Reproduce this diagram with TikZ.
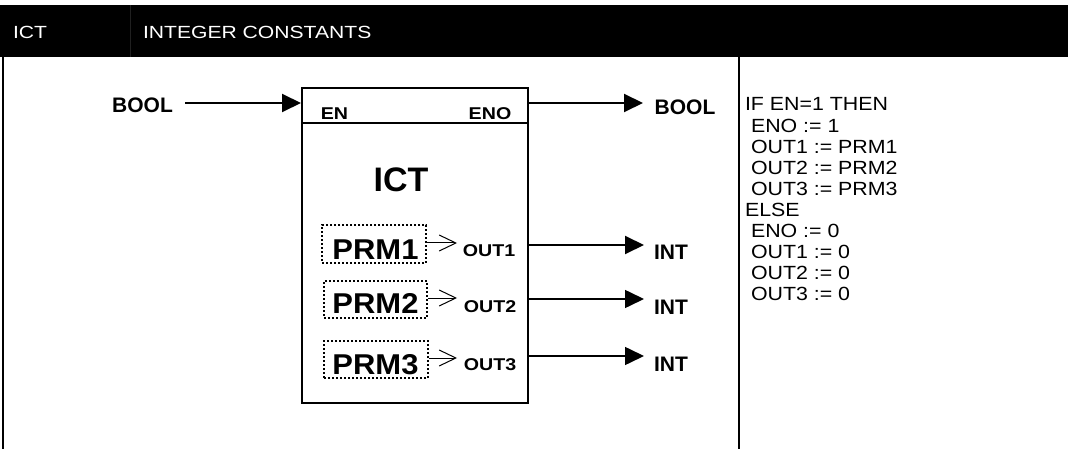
\documentclass[tikz,border=0pt]{standalone}
\usepackage{fontspec}
\setmainfont{Liberation Sans}
\newfontfamily\hdrfont[FakeStretch=1.2]{Liberation Sans}
\newfontfamily\codefont[FakeStretch=1.12]{Liberation Sans}
\newfontfamily\bfa{Liberation Sans Bold}
\newfontfamily\bfb[FakeStretch=1.15]{Liberation Sans Bold}
\newfontfamily\bfc[FakeStretch=1.08]{Liberation Sans Bold}
\usetikzlibrary{arrows.meta}
\begin{document}
\begin{tikzpicture}[x=0.75pt,y=-0.75pt,
  txt/.style={inner sep=0pt,outer sep=0pt},
  hdr/.style={txt,anchor=base west,text=white,font=\hdrfont\fontsize{13.2pt}{14pt}\selectfont},
  typ/.style={txt,anchor=base,font=\bfa\fontsize{15.75pt}{17pt}\selectfont},
  pin/.style={txt,anchor=base,font=\bfb\fontsize{12.8pt}{14pt}\selectfont},
  prm/.style={txt,anchor=base,font=\bfc\fontsize{21.5pt}{23pt}\selectfont},
  code/.style={txt,anchor=base west,font=\codefont\fontsize{14.3pt}{16pt}\selectfont},
  sig/.style={line width=1.5pt,-{Triangle[length=14.25pt,width=13.5pt]}},
  sigthin/.style={line width=1.2pt,-{Triangle[length=14.25pt,width=13.5pt]}},
  small/.style={line width=0.75pt,-{Straight Barb[length=12.5pt,width=12pt,line width=0.75pt]}},
  dotbox/.style={draw,line width=1.5pt,dash pattern=on 1.5pt off 1.5pt}]
\useasboundingbox (0,0) rectangle (1068,449);
% header
\fill[black] (0,5) rectangle (1068,57);
\draw[line width=0.75pt,color={rgb,255:red,32;green,32;blue,32}] (130,5) -- (130,57);
\node[hdr] (h1) at (13,39) {ICT};
\node[hdr] (h2) at (143,39) {INTEGER CONSTANTS};
% frame lines
\draw[line width=1.5pt] (3,57) -- (3,449);
\draw[line width=1.5pt] (739,57) -- (739,449);
% block
\node[draw,line width=1.5pt,minimum width=226*0.75pt,minimum height=315*0.75pt,inner sep=0pt,anchor=north west] (blk) at (301,87) {};
\draw[line width=1.5pt] (301,123) -- (527,123);
\node[pin] (en) at (334.5,120) {EN};
\node[pin] (eno) at (490,120) {ENO};
\node[txt,anchor=base,font=\bfa\fontsize{25.5pt}{27pt}\selectfont] (ttl) at (401,192) {ICT};
% BOOL in/out
\node[typ] (bin) at (142.5,113) {BOOL};
\node[typ] (bout) at (685,115) {BOOL};
\coordinate (a1) at (185,103);
\coordinate (a2) at (643,103);
\draw[sig] (a1) -- (a1 -| blk.west);
\draw[sig] (a1 -| blk.east) -- (a2);
% parameters
\node[dotbox,minimum width=104*0.75pt,minimum height=38*0.75pt,inner sep=0pt,anchor=north west] (p1) at (321,224) {};
\node[dotbox,minimum width=103*0.75pt,minimum height=37*0.75pt,inner sep=0pt,anchor=north west] (p2) at (323,280) {};
\node[dotbox,minimum width=104*0.75pt,minimum height=37*0.75pt,inner sep=0pt,anchor=north west] (p3) at (323,340) {};
\node[prm] (t1) at (375.5,259) {PRM1};
\node[prm] (t2) at (375.5,313) {PRM2};
\node[prm] (t3) at (375.5,374) {PRM3};
\coordinate (s1) at (457,243);
\coordinate (s2) at (457,298);
\coordinate (s3) at (457,358);
\draw[small] (s1 -| p1.east) -- (s1);
\draw[small] (s2 -| p2.east) -- (s2);
\draw[small] (s3 -| p3.east) -- (s3);
\node[pin] (o1) at (489,257) {OUT1};
\node[pin] (o2) at (490,312) {OUT2};
\node[pin] (o3) at (490,370) {OUT3};
% INT outputs
\coordinate (i1) at (644,245);
\coordinate (i2) at (644,299);
\coordinate (i3) at (644,356);
\draw[sig] (i1 -| blk.east) -- (i1);
\draw[sigthin] (i2 -| blk.east) -- (i2);
\draw[sigthin] (i3 -| blk.east) -- (i3);
\node[typ] (n1) at (671,260) {INT};
\node[typ] (n2) at (671,315) {INT};
\node[typ] (n3) at (671,371) {INT};
% code
\node[code] (c0) at (745,111) {IF EN=1 THEN};
\node[code] (c1) at (751,132.1) {ENO := 1};
\node[code] (c2) at (751,153.2) {OUT1 := PRM1};
\node[code] (c3) at (751,174.3) {OUT2 := PRM2};
\node[code] (c4) at (751,195.4) {OUT3 := PRM3};
\node[code] (c5) at (745,216.5) {ELSE};
\node[code] (c6) at (751,237.6) {ENO := 0};
\node[code] (c7) at (751,258.7) {OUT1 := 0};
\node[code] (c8) at (751,279.8) {OUT2 := 0};
\node[code] (c9) at (751,300.9) {OUT3 := 0};
\end{tikzpicture}
\end{document}
